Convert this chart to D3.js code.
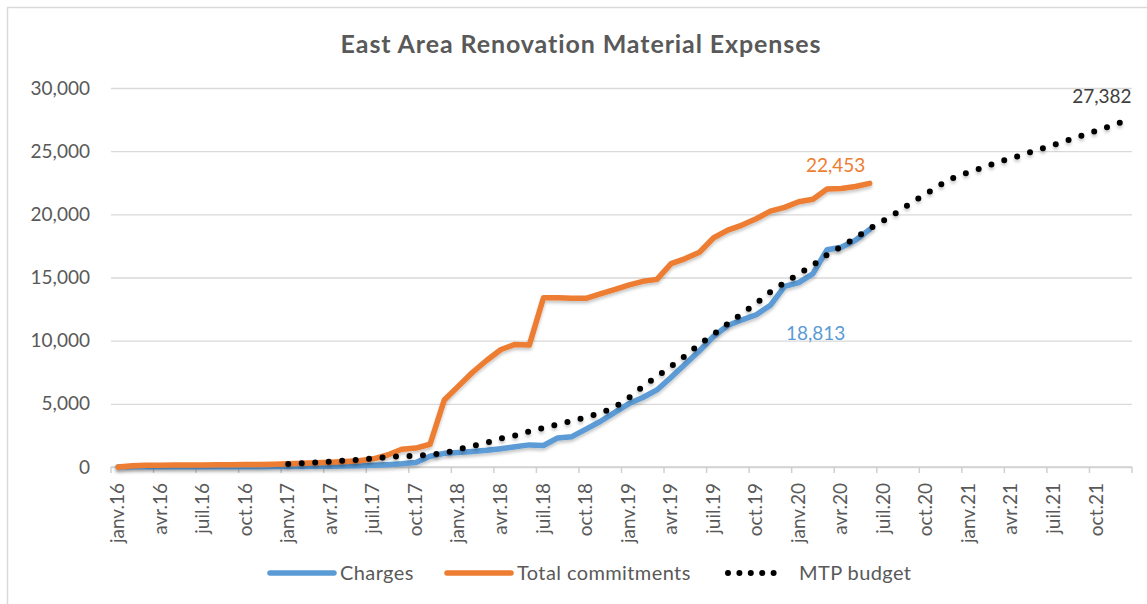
<!DOCTYPE html>
<html>
<head>
<meta charset="utf-8">
<script src="https://cdn.jsdelivr.net/npm/d3@7"></script>
<style>
    body { margin: 0; background: #fff; }
    svg { display: block; font-family: Lato, "Open Sans", sans-serif; }
</style>
</head>
<body>
<div id="chart"></div>
<script>
// months on the category axis: janv.16 -> déc.21
const firstMonth = new Date(2016, 0, 1);
const lastMonth = new Date(2021, 11, 1);

// Charges, janv.16 -> juin 20
const charges = [
    0, 10, 15, 15, 20, 20, 20, 20, 25, 25, 25, 30,
    30, 40, 50, 60, 80, 100, 130, 180, 250, 350, 850, 1080,
    1150, 1230, 1320, 1450, 1600, 1750, 1700, 2300, 2400, 3000, 3600, 4300,
    5000, 5500, 6100, 7100, 8150, 9200, 10350, 11200, 11650, 12050, 12800, 14300,
    14600, 15300, 17200, 17400, 17950, 18813
];

// Total commitments, janv.16 -> juin 20
const commitments = [
    0, 100, 130, 140, 150, 150, 160, 170, 180, 190, 200, 220,
    250, 300, 330, 380, 430, 500, 650, 950, 1400, 1500, 1800, 5300,
    6400, 7500, 8450, 9300, 9700, 9650, 13400, 13400, 13350, 13350, 13700, 14050,
    14400, 14700, 14850, 16100, 16500, 17000, 18150, 18750, 19150, 19650, 20250, 20550,
    21000, 21200, 22000, 22050, 22200, 22453
];

// MTP budget, janv.17 -> déc.21
const mtpStart = 12;
const mtpBudget = [
    240, 300, 360, 430, 500, 580, 680, 780, 850, 900, 960, 1100,
    1400, 1650, 1930, 2250, 2490, 2820, 3100, 3380, 3650, 3940, 4260, 4720,
    5450, 6360, 7170, 7970, 8790, 9720, 10500, 11340, 12140, 12960, 13860, 14580,
    15280, 15970, 16800, 17450, 18140, 18870, 19520, 20200, 20960, 21640, 22340, 22940,
    23340, 23700, 24110, 24440, 24800, 25150, 25500, 25880, 26250, 26620, 27000, 27382
];

const yTicks = [0, 5000, 10000, 15000, 20000, 25000, 30000];

const seriesNames = ["Charges", "Total commitments", "MTP budget"];
const seriesColors = ["#5B9BD5", "#ED7D31", "#000000"];

class CumulativeChart {
    constructor(_config) {
        this.config = {
            parentElement: _config.parentElement,
            containerWidth: _config.containerWidth,
            containerHeight: _config.containerHeight,
            margin: _config.margin
        };
        this.initVis();
    }

    initVis() {
        let vis = this;
        const m = vis.config.margin;

        vis.months = d3.timeMonth.range(firstMonth, d3.timeMonth.offset(lastMonth, 1));

        vis.svg = d3.select(vis.config.parentElement).append("svg")
            .attr("width", vis.config.containerWidth)
            .attr("height", vis.config.containerHeight);

        // soft shadow under the lines, like the spreadsheet style
        vis.svg.append("defs").append("filter")
            .attr("id", "shadow")
            .attr("x", "-5%").attr("y", "-5%")
            .attr("width", "110%").attr("height", "120%")
            .append("feDropShadow")
            .attr("dx", 0).attr("dy", 2.5)
            .attr("stdDeviation", 1.8)
            .attr("flood-color", "#000")
            .attr("flood-opacity", 0.22);

        // chart area border (cut by the picture on the right and bottom)
        vis.svg.append("rect")
            .attr("x", 7.5).attr("y", 7.5)
            .attr("width", 1300).attr("height", 800)
            .attr("fill", "none")
            .attr("stroke", "#d9d9d9")
            .attr("stroke-width", 1.5);

        vis.xScale = d3.scaleBand()
            .domain(vis.months.map(d => +d))
            .range([m.left, vis.config.containerWidth - m.right])
            .padding(0);

        vis.yScale = d3.scaleLinear()
            .domain([0, 30000])
            .range([vis.config.containerHeight - m.bottom, m.top]);

        vis.svg.append("text")
            .attr("x", 581)
            .attr("y", 53)
            .attr("text-anchor", "middle")
            .style("font-size", "25px")
            .style("letter-spacing", "0.9px")
            .style("font-weight", "bold")
            .style("fill", "#595959")
            .text("East Area Renovation Material Expenses");
    }

    renderVis() {
        let vis = this;
        const m = vis.config.margin;
        const x0 = m.left;
        const x1 = vis.config.containerWidth - m.right;
        const xc = i => vis.xScale(+vis.months[i]) + vis.xScale.bandwidth() / 2;
        const y0 = vis.yScale(0);

        // gridlines + y labels
        const yAxis = d3.axisLeft(vis.yScale)
            .tickValues(yTicks)
            .tickSize(-(x1 - x0))
            .tickPadding(21)
            .tickFormat(d3.format(","));
        const yAxisG = vis.svg.append("g")
            .attr("transform", `translate(${x0},0)`)
            .call(yAxis);
        yAxisG.select(".domain").remove();
        yAxisG.selectAll(".tick line").attr("stroke", "#d9d9d9").attr("stroke-width", 1.3);
        yAxisG.selectAll(".tick text")
            .style("font-size", "19px")
            .style("font-family", "Lato, sans-serif")
            .style("fill", "#595959");

        // x axis: ticks every quarter on month boundaries, label on first month of quarter
        const fr = d3.timeFormatLocale({
            dateTime: "%A %e %B %Y à %X", date: "%d/%m/%Y", time: "%H:%M:%S",
            periods: ["AM", "PM"],
            days: ["dimanche", "lundi", "mardi", "mercredi", "jeudi", "vendredi", "samedi"],
            shortDays: ["dim.", "lun.", "mar.", "mer.", "jeu.", "ven.", "sam."],
            months: ["janvier", "février", "mars", "avril", "mai", "juin", "juillet", "août", "septembre", "octobre", "novembre", "décembre"],
            shortMonths: ["janv.", "févr.", "mars", "avr.", "mai", "juin", "juil.", "août", "sept.", "oct.", "nov.", "déc."]
        });
        const fmt = fr.format("%b%y");

        const xAxisG = vis.svg.append("g").attr("class", "x-axis");
        xAxisG.append("line")
            .attr("x1", x0).attr("x2", x1)
            .attr("y1", y0).attr("y2", y0)
            .attr("stroke", "#d0d0d0")
            .attr("stroke-width", 1.5);

        const quarterIdx = d3.range(0, vis.months.length + 1, 3);
        xAxisG.selectAll(".qtick")
            .data(quarterIdx)
            .join("line")
            .attr("class", "qtick")
            .attr("x1", i => i < vis.months.length ? vis.xScale(+vis.months[i]) : x1)
            .attr("x2", i => i < vis.months.length ? vis.xScale(+vis.months[i]) : x1)
            .attr("y1", y0).attr("y2", y0 + 6)
            .attr("stroke", "#d0d0d0")
            .attr("stroke-width", 1.5);

        xAxisG.selectAll(".qlabel")
            .data(quarterIdx.filter(i => i < vis.months.length))
            .join("text")
            .attr("class", "qlabel")
            .attr("transform", i => `translate(${xc(i) + 6},${y0 + 16}) rotate(-90)`)
            .attr("text-anchor", "end")
            .style("font-size", "19px")
            .style("fill", "#595959")
            .text(i => fmt(vis.months[i]));

        // lines
        const line = d3.line()
            .x(d => xc(d.i))
            .y(d => vis.yScale(d.v));

        const chargesPts = charges.map((v, i) => ({ i, v }));
        const commitPts = commitments.map((v, i) => ({ i, v }));
        const mtpPts = mtpBudget.map((v, i) => ({ i: i + mtpStart, v }));

        vis.svg.append("path")
            .datum(chargesPts)
            .attr("d", line)
            .attr("fill", "none")
            .attr("stroke", seriesColors[0])
            .attr("stroke-width", 5.5)
            .attr("stroke-linejoin", "round")
            .attr("stroke-linecap", "round")
            .attr("filter", "url(#shadow)");

        vis.svg.append("path")
            .datum(commitPts)
            .attr("d", line)
            .attr("fill", "none")
            .attr("stroke", seriesColors[1])
            .attr("stroke-width", 5.5)
            .attr("stroke-linejoin", "round")
            .attr("stroke-linecap", "round")
            .attr("filter", "url(#shadow)");

        vis.svg.append("path")
            .datum(mtpPts)
            .attr("d", line)
            .attr("fill", "none")
            .attr("stroke", seriesColors[2])
            .attr("stroke-width", 6)
            .attr("stroke-linecap", "round")
            .attr("stroke-dasharray", "0 13.5")
            .attr("filter", "url(#shadow)");

        // end labels
        const last = arr => arr[arr.length - 1];
        vis.svg.append("text")
            .attr("x", xc(last(commitPts).i) - 34)
            .attr("y", vis.yScale(last(commitPts).v) - 11)
            .attr("text-anchor", "middle")
            .style("font-size", "19px")
            .style("fill", seriesColors[1])
            .text(d3.format(",")(last(commitPts).v));

        vis.svg.append("text")
            .attr("x", xc(last(chargesPts).i) - 54)
            .attr("y", vis.yScale(last(chargesPts).v) + 111)
            .attr("text-anchor", "middle")
            .style("font-size", "19px")
            .style("fill", seriesColors[0])
            .text(d3.format(",")(last(chargesPts).v));

        vis.svg.append("text")
            .attr("x", xc(last(mtpPts).i) - 23)
            .attr("y", vis.yScale(last(mtpPts).v) - 18)
            .attr("text-anchor", "middle")
            .style("font-size", "19px")
            .style("fill", "#404040")
            .text(d3.format(",")(last(mtpPts).v));

        // legend
        const legendItems = [
            { name: seriesNames[0], color: seriesColors[0], x: 270, dotted: false },
            { name: seriesNames[1], color: seriesColors[1], x: 447, dotted: false },
            { name: seriesNames[2], color: seriesColors[2], x: 728, dotted: true }
        ];
        const legend = vis.svg.append("g").attr("class", "legend");
        const lg = legend.selectAll("g")
            .data(legendItems)
            .join("g")
            .attr("transform", d => `translate(${d.x},573)`);
        lg.append("line")
            .attr("x1", 0)
            .attr("x2", d => d.dotted ? 57 : 64)
            .attr("y1", 0).attr("y2", 0)
            .attr("stroke", d => d.color)
            .attr("stroke-width", d => d.dotted ? 6 : 5.5)
            .attr("stroke-linecap", "round")
            .attr("stroke-dasharray", d => d.dotted ? "0 11.4" : null);
        lg.append("text")
            .attr("x", d => d.dotted ? 71 : 70)
            .attr("y", 7)
            .style("font-size", "20px")
            .style("letter-spacing", "0.4px")
            .style("fill", "#595959")
            .text(d => d.name);
    }
}

const chart = new CumulativeChart({
    parentElement: "#chart",
    containerWidth: 1147,
    containerHeight: 604,
    margin: { top: 88, right: 15, bottom: 137, left: 111 }
});
chart.renderVis();
</script>
</body>
</html>
